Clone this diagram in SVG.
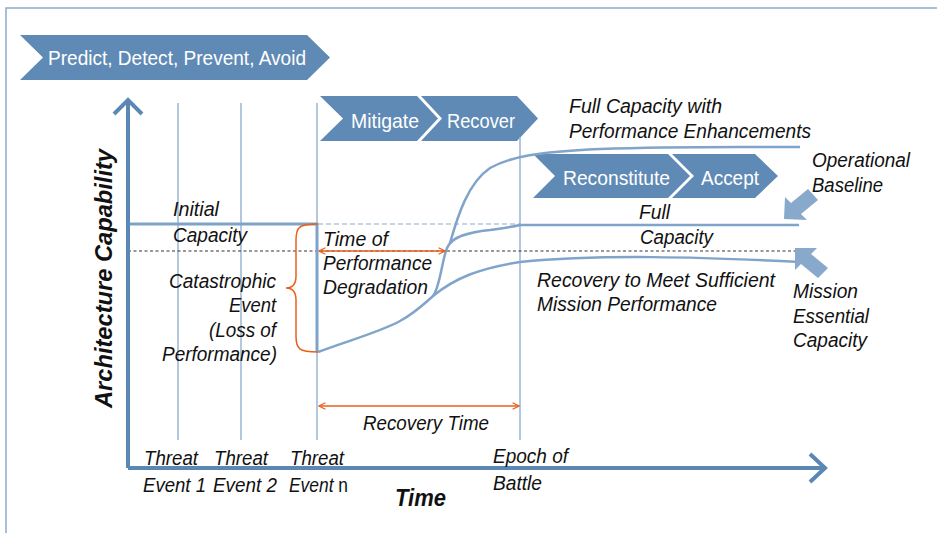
<svg xmlns="http://www.w3.org/2000/svg" width="937" height="533" viewBox="0 0 937 533">
<style>
.t{font-family:"Liberation Sans",Arial,sans-serif;font-style:italic;font-size:20px;fill:#111}
.w{font-family:"Liberation Sans",Arial,sans-serif;font-size:21px;fill:#fff}
.chev{fill:#5f8ab5}
.vl{stroke:#9ab6d5;stroke-width:1.5;fill:none}
.cv{stroke:#80a4ca;stroke-width:2.5;fill:none}
.or{stroke:#e8601c;stroke-width:1.5;fill:none}
.ax{stroke:#5b87b5;stroke-width:4;fill:none}
.big{fill:#88a8cc}
.b{font-family:"Liberation Sans",Arial,sans-serif;font-style:italic;font-weight:bold;font-size:23px;fill:#111}
</style>
<defs>
<marker id="oa" viewBox="0 0 10 10" refX="9" refY="5" markerWidth="8" markerHeight="8" orient="auto-start-reverse" markerUnits="userSpaceOnUse">
<path d="M1,1 L9,5 L1,9" fill="none" stroke="#e8601c" stroke-width="1.5"/>
</marker>
</defs>
<rect x="6" y="8" width="940" height="540" fill="none" stroke="#8aabd0" stroke-width="1.5"/>
<g id="phases">
<g id="predict"><polygon class="chev" points="20,35 307,35 330,57.5 307,80 20,80 43,57.5"/><text class="w" x="48" y="65" font-size="22" textLength="258" lengthAdjust="spacingAndGlyphs">Predict, Detect, Prevent, Avoid</text></g>
<g id="mitigate"><polygon class="chev" points="320,96 417,96 438,118.5 417,141 320,141 343,118.5"/><text class="w" x="351" y="128" textLength="68" lengthAdjust="spacingAndGlyphs">Mitigate</text></g>
<g id="recover"><polygon class="chev" points="421,96 517,96 538,118.5 517,141 421,141 442,118.5"/><text class="w" x="447" y="128" textLength="68" lengthAdjust="spacingAndGlyphs">Recover</text></g>
<g id="reconstitute"><polygon class="chev" points="533,154 668,154 690,176 668,198 533,198 555,176"/><text class="w" x="563" y="185" textLength="107" lengthAdjust="spacingAndGlyphs">Reconstitute</text></g>
<g id="accept"><polygon class="chev" points="672,154 755,154 778,176 755,198 672,198 694,176"/><text class="w" x="701" y="185" textLength="58" lengthAdjust="spacingAndGlyphs">Accept</text></g>
</g>
<g id="connectors">
<line class="vl" x1="178" y1="103" x2="178" y2="440"/>
<line class="vl" x1="241" y1="103" x2="241" y2="440"/>
<line class="vl" x1="317" y1="103" x2="317" y2="440"/>
<line class="vl" x1="520" y1="137" x2="520" y2="440"/>
<line x1="128" y1="251" x2="796" y2="251" stroke="#333" stroke-width="1" stroke-dasharray="3,2.5"/>
<line x1="128" y1="224" x2="318" y2="224" stroke="#7ea3c9" stroke-width="3"/>
<line x1="317" y1="223" x2="317" y2="352" stroke="#7ea3c9" stroke-width="3"/>
<line x1="318" y1="224" x2="520" y2="224" stroke="#8aabd0" stroke-width="1.2" stroke-dasharray="5,3"/>
<line x1="520" y1="225" x2="799" y2="225" class="cv"/>
<path class="cv" d="M318,352 C350,340 380,332 400,321 C415,313 425,303 433,296 C455,278 480,268 520,262 C600,254 700,257 800,262"/>
<path class="cv" d="M433,296 C440,287 442,260 447,248 C452,236 470,232 490,230 C505,228 512,227 520,225"/>
<path class="cv" d="M450,243 C458,215 468,183 490,168 C510,157 535,152 600,149 C680,146 740,147 800,147"/>
<line class="or" x1="319" y1="251" x2="445" y2="251" marker-start="url(#oa)" marker-end="url(#oa)"/>
<line class="or" x1="319" y1="406" x2="519" y2="406" marker-start="url(#oa)" marker-end="url(#oa)"/>
<path class="or" d="M318,224 C299,224 296,227 296,240 L296,276 C296,285 292,288 286,288 C292,288 296,291 296,300 L296,336 C296,349 299,352 318,352"/>
<polyline class="ax" points="128,468 128,100"/>
<polyline class="ax" points="114,114 128,100 142,114"/>
<polyline class="ax" points="128,468 825,468"/>
<polyline class="ax" points="810,454 825,468 810,482"/>
<path class="big" d="M784,219 L785,197 L791,203 L808,189 L818,200 L801,214 L807,220 Z"/>
<path class="big" d="M795,248 L817,248 L811,254 L828,268 L818,278 L801,264 L795,270 Z"/>
</g>
<g id="labels">
<text class="t" x="569" y="113" textLength="153" lengthAdjust="spacingAndGlyphs">Full Capacity with</text>
<text class="t" x="569" y="138" textLength="242" lengthAdjust="spacingAndGlyphs">Performance Enhancements</text>
<text class="t" x="812" y="167" textLength="98" lengthAdjust="spacingAndGlyphs">Operational</text>
<text class="t" x="812" y="192" textLength="71" lengthAdjust="spacingAndGlyphs">Baseline</text>
<text class="t" x="639" y="219" textLength="31" lengthAdjust="spacingAndGlyphs">Full</text>
<text class="t" x="640" y="244" textLength="73" lengthAdjust="spacingAndGlyphs">Capacity</text>
<text class="t" x="173" y="216" textLength="46" lengthAdjust="spacingAndGlyphs">Initial</text>
<text class="t" x="173" y="242" textLength="74" lengthAdjust="spacingAndGlyphs">Capacity</text>
<text class="t" x="169" y="288" textLength="107" lengthAdjust="spacingAndGlyphs">Catastrophic</text>
<text class="t" x="229" y="312" textLength="47" lengthAdjust="spacingAndGlyphs">Event</text>
<text class="t" x="209" y="337" textLength="67" lengthAdjust="spacingAndGlyphs">(Loss of</text>
<text class="t" x="162" y="361" textLength="115" lengthAdjust="spacingAndGlyphs">Performance)</text>
<text class="t" x="323" y="246" textLength="65" lengthAdjust="spacingAndGlyphs">Time of</text>
<text class="t" x="323" y="270" textLength="109" lengthAdjust="spacingAndGlyphs">Performance</text>
<text class="t" x="323" y="294" textLength="105" lengthAdjust="spacingAndGlyphs">Degradation</text>
<text class="t" x="537" y="287" textLength="238" lengthAdjust="spacingAndGlyphs">Recovery to Meet Sufficient</text>
<text class="t" x="537" y="311" textLength="180" lengthAdjust="spacingAndGlyphs">Mission Performance</text>
<text class="t" x="793" y="298" textLength="65" lengthAdjust="spacingAndGlyphs">Mission</text>
<text class="t" x="793" y="323" textLength="76" lengthAdjust="spacingAndGlyphs">Essential</text>
<text class="t" x="793" y="347" textLength="74" lengthAdjust="spacingAndGlyphs">Capacity</text>
<text class="t" x="363" y="430" textLength="126" lengthAdjust="spacingAndGlyphs">Recovery Time</text>
<text class="t" x="144" y="465" textLength="54" lengthAdjust="spacingAndGlyphs">Threat</text>
<text class="t" x="143" y="492" textLength="63" lengthAdjust="spacingAndGlyphs">Event 1</text>
<text class="t" x="214" y="465" textLength="54" lengthAdjust="spacingAndGlyphs">Threat</text>
<text class="t" x="213" y="492" textLength="64" lengthAdjust="spacingAndGlyphs">Event 2</text>
<text class="t" x="290" y="465" textLength="54" lengthAdjust="spacingAndGlyphs">Threat</text>
<text class="t" transform="translate(289,492) scale(0.87,1)" x="0" y="0">Event <tspan font-style="normal">n</tspan></text>
<text class="t" x="493" y="463" textLength="75" lengthAdjust="spacingAndGlyphs">Epoch of</text>
<text class="t" x="493" y="490" textLength="49" lengthAdjust="spacingAndGlyphs">Battle</text>
<text class="b" x="395" y="506" textLength="51" lengthAdjust="spacingAndGlyphs">Time</text>
<text class="b" transform="translate(112,408) rotate(-90)" textLength="259" lengthAdjust="spacingAndGlyphs">Architecture Capability</text>
</g>
</svg>
